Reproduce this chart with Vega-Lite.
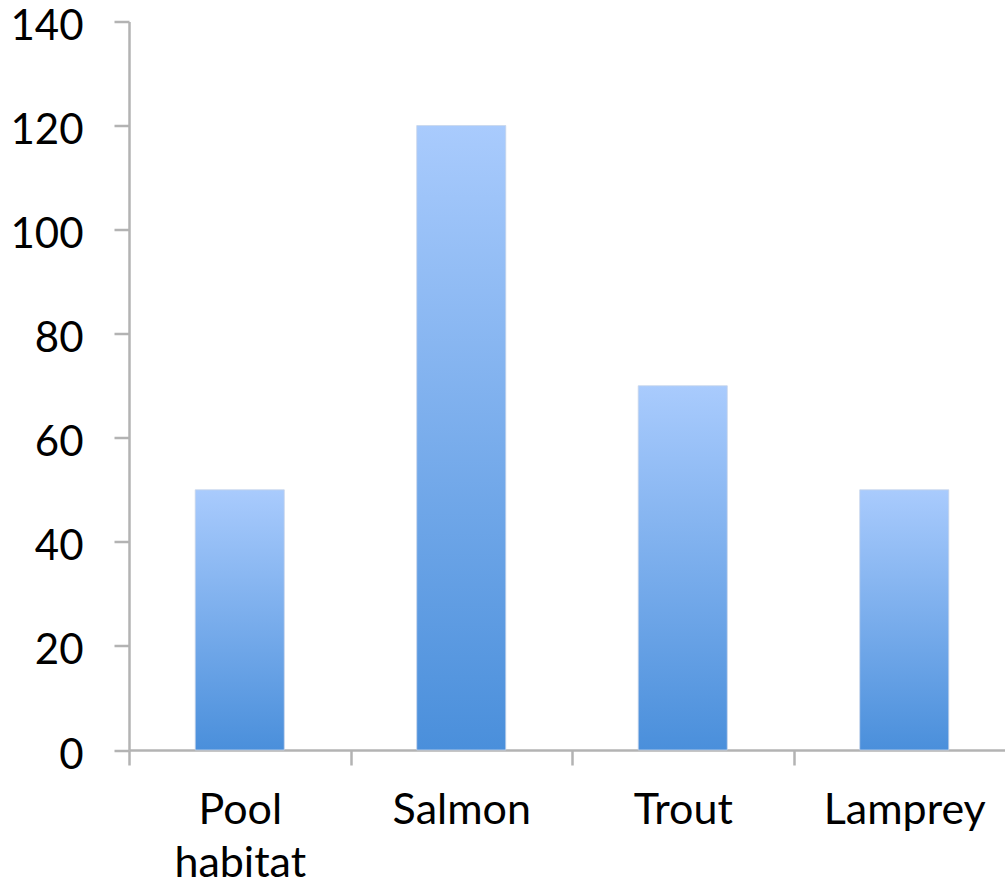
{
  "$schema": "https://vega.github.io/schema/vega-lite/v6.json",
  "autosize": "none",
  "width": 876,
  "height": 728.5,
  "padding": {"left": 129, "top": 21.5, "right": 0, "bottom": 139},
  "background": "white",
  "data": {
    "values": [
      {"category": "Pool habitat", "count": 50},
      {"category": "Salmon", "count": 120},
      {"category": "Trout", "count": 70},
      {"category": "Lamprey", "count": 50}
    ]
  },
  "mark": {
    "type": "bar",
    "color": {
      "gradient": "linear",
      "x1": 0, "y1": 0, "x2": 0, "y2": 1,
      "stops": [
        {"offset": 0, "color": "#a9cbfd"},
        {"offset": 1, "color": "#4a8fdb"}
      ]
    },
    "stroke": "#c8d6ea",
    "strokeWidth": 0.8
  },
  "encoding": {
    "x": {
      "field": "category",
      "type": "nominal",
      "sort": null,
      "scale": {"range": [0, 886], "paddingInner": 0.598, "paddingOuter": 0.299},
      "axis": {
        "title": null,
        "labelAngle": 0,
        "labelExpr": "split(datum.label, ' ')",
        "labelFont": "Lato",
        "labelFontSize": 43,
        "labelColor": "#000000",
        "labelLineHeight": 53,
        "labelPadding": 24,
        "labelBaseline": "top",
        "labelOffset": 110.75,
        "domainColor": "#b3b3b3",
        "domainWidth": 2.5,
        "tickColor": "#b3b3b3",
        "tickWidth": 2.5,
        "tickSize": 15,
        "tickOffset": -110.75,
        "ticks": true,
        "grid": false
      }
    },
    "y": {
      "field": "count",
      "type": "quantitative",
      "scale": {"domain": [0, 140], "nice": false},
      "axis": {
        "title": null,
        "values": [0, 20, 40, 60, 80, 100, 120, 140],
        "labelFont": "Lato",
        "labelFontSize": 42,
        "labelColor": "#000000",
        "labelPadding": 31,
        "labelOffset": 5,
        "domainColor": "#b3b3b3",
        "domainWidth": 2.5,
        "tickColor": "#b3b3b3",
        "tickWidth": 2.5,
        "tickSize": 15,
        "grid": false
      }
    }
  },
  "config": {"view": {"stroke": null}}
}
